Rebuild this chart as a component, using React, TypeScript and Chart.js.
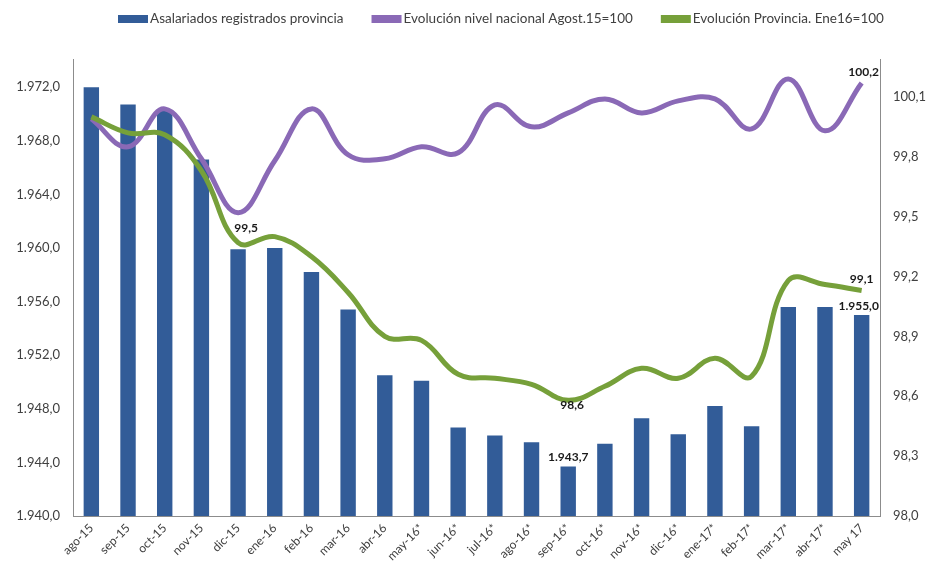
import React, { useEffect, useRef } from "react";
import { Chart, registerables } from "chart.js";

Chart.register(...registerables);

const categories = [
  "ago-15", "sep-15", "oct-15", "nov-15", "dic-15", "ene-16", "feb-16", "mar-16", "abr-16",
  "may-16*", "jun-16*", "jul-16*", "ago-16*", "sep-16*", "oct-16*", "nov-16*", "dic-16*",
  "ene-17*", "feb-17*", "mar-17*", "abr-17*", "may 17",
];

const asalariados = [
  1972.0, 1970.7, 1970.3, 1966.6, 1959.9, 1960.0, 1958.2, 1955.4, 1950.5, 1950.1, 1946.6,
  1946.0, 1945.5, 1943.7, 1945.4, 1947.3, 1946.1, 1948.2, 1946.7, 1955.6, 1955.6, 1955.0,
];

const nacional = [
  99.99, 99.85, 100.04, 99.79, 99.52, 99.78, 100.04, 99.81, 99.79, 99.85, 99.82, 100.06,
  99.95, 100.02, 100.09, 100.02, 100.08, 100.09, 99.94, 100.19, 99.93, 100.17,
];

const provincia = [
  100.0, 99.92, 99.91, 99.73, 99.37, 99.4, 99.3, 99.12, 98.9, 98.88, 98.71, 98.69, 98.66,
  98.58, 98.65, 98.74, 98.69, 98.79, 98.7, 99.18, 99.16, 99.13,
];

const leftTicks = [1940, 1944, 1948, 1952, 1956, 1960, 1964, 1968, 1972];
const rightTicks = [98.0, 98.3, 98.6, 98.9, 99.2, 99.5, 99.8, 100.1];

const seriesNames = [
  "Asalariados registrados provincia",
  "Evolución nivel nacional Agost.15=100",
  "Evolución Provincia. Ene16=100",
];

// [datasetIndex, pointIndex]
const labeledPoints: [number, number][] = [
  [0, 13],
  [0, 21],
  [1, 4],
  [1, 21],
  [2, 13],
  [2, 21],
];

const BAR = "#325C98";
const PURPLE = "#8A69B6";
const GREEN = "#76A03A";
const TEXT = "#404040";
const FONT = "Lato, 'Liberation Sans', sans-serif";

function fmt(v: number): string {
  const s = Number(v).toFixed(1);
  const [i, d] = s.split(".");
  const ii = i.replace(/\B(?=(\d{3})+(?!\d))/g, ".");
  return ii + "," + d;
}

const legendPlugin = {
  id: "customLegend",
  afterDraw(chart: any) {
    const ctx = chart.ctx;
    const colors = [BAR, PURPLE, GREEN];
    ctx.save();
    ctx.font = `13.5px ${FONT}`;
    ctx.textBaseline = "middle";
    ctx.textAlign = "left";
    let x = 118;
    const y = 19;
    seriesNames.forEach((name, i) => {
      ctx.fillStyle = colors[i];
      ctx.fillRect(x, y - 4, 30, 8);
      x += 32;
      ctx.fillStyle = TEXT;
      ctx.fillText(name, x, y);
      x += ctx.measureText(name).width + 28;
    });
    ctx.restore();
  },
};

const dataLabelPlugin = {
  id: "dataLabels",
  afterDatasetsDraw(chart: any) {
    const ctx = chart.ctx;
    ctx.save();
    ctx.font = `bold 12px ${FONT}`;
    ctx.fillStyle = "#1a1a1a";
    ctx.textAlign = "center";
    ctx.textBaseline = "middle";
    const offsets: Record<string, [number, number]> = {
      "0-13": [0, -9],
      "0-21": [-3, -9],
      "1-4": [8, 15],
      "1-21": [2, -11],
      "2-13": [4, 5],
      "2-21": [0, -11],
    };
    labeledPoints.forEach(([ds, idx]) => {
      const el = chart.getDatasetMeta(ds).data[idx];
      const v = chart.data.datasets[ds].data[idx];
      const off = offsets[`${ds}-${idx}`] || [0, -10];
      ctx.fillText(fmt(v), el.x + off[0], el.y + off[1]);
    });
    ctx.restore();
  },
};

export default function App() {
  const ref = useRef<HTMLCanvasElement | null>(null);

  useEffect(() => {
    if (!ref.current) return;
    const chart = new Chart(ref.current, {
      type: "bar",
      data: {
        labels: categories,
        datasets: [
          {
            type: "bar",
            label: seriesNames[0],
            data: asalariados,
            backgroundColor: BAR,
            yAxisID: "y",
            categoryPercentage: 1,
            barPercentage: 0.42,
            order: 2,
          },
          {
            type: "line",
            label: seriesNames[1],
            data: nacional,
            borderColor: PURPLE,
            backgroundColor: PURPLE,
            borderWidth: 5,
            pointRadius: 0,
            tension: 0.4,
            yAxisID: "y1",
            order: 1,
          },
          {
            type: "line",
            label: seriesNames[2],
            data: provincia,
            borderColor: GREEN,
            backgroundColor: GREEN,
            borderWidth: 5,
            pointRadius: 0,
            tension: 0.4,
            yAxisID: "y1",
            order: 0,
          },
        ] as any,
      },
      options: {
        animation: false,
        responsive: true,
        maintainAspectRatio: false,
        layout: { padding: { top: 59, left: 0, right: 0, bottom: 0 } },
        plugins: {
          legend: { display: false },
          tooltip: { enabled: false },
        },
        scales: {
          x: {
            grid: { display: false, drawTicks: false },
            border: { display: true, color: "#8c8c8c", width: 1 },
            ticks: {
              color: TEXT,
              font: { family: FONT, size: 12 },
              minRotation: 45,
              maxRotation: 45,
              autoSkip: false,
              padding: 5,
            },
            afterFit(scale: any) {
              scale.height = 49;
            },
          },
          y: {
            position: "left",
            min: 1940,
            max: 1974.1,
            grid: { display: false, drawTicks: false },
            border: { display: true, color: "#8c8c8c", width: 1 },
            afterBuildTicks(scale: any) {
              scale.ticks = leftTicks.map((v) => ({ value: v }));
            },
            ticks: {
              color: TEXT,
              font: { family: FONT, size: 13 },
              padding: 13,
              callback: (v: any) => fmt(Number(v)),
            },
            afterFit(scale: any) {
              scale.width = 73;
            },
          },
          y1: {
            position: "right",
            min: 98,
            max: 100.29,
            grid: { display: false, drawTicks: false },
            border: { display: true, color: "#8c8c8c", width: 1 },
            afterBuildTicks(scale: any) {
              scale.ticks = rightTicks.map((v) => ({ value: v }));
            },
            ticks: {
              color: TEXT,
              font: { family: FONT, size: 13 },
              padding: 13,
              callback: (v: any) => fmt(Number(v)),
            },
            afterFit(scale: any) {
              scale.width = 49;
            },
          },
        },
      },
      plugins: [legendPlugin, dataLabelPlugin],
    });
    return () => chart.destroy();
  }, []);

  return (
    <div style={{ position: "absolute", left: 0, top: 0, width: 929, height: 565, background: "#fff" }}>
      <canvas ref={ref} />
    </div>
  );
}
